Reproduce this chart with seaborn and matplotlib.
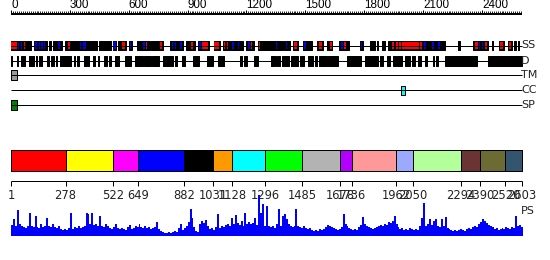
import numpy as np
import pandas as pd
import matplotlib
matplotlib.use("Agg")
import matplotlib.pyplot as plt
import seaborn as sns

# ---------------- data ----------------
SEQ_LEN = 2603
ruler_labels = [0, 300, 600, 900, 1200, 1500, 1800, 2100, 2400]

track_names = ["SS", "D", "TM", "CC", "SP"]

ss_coil = [(0, 100), (119, 182), (194, 202), (212, 229), (236, 258), (277, 389), (392, 437),
           (450, 510), (522, 535), (547, 586), (603, 618), (644, 708), (714, 776), (810, 878),
           (892, 938), (955, 1009), (1035, 1065), (1079, 1116), (1120, 1171), (1179, 1184),
           (1198, 1239), (1261, 1380), (1386, 1391), (1397, 1422), (1439, 1461), (1490, 1512),
           (1516, 1532), (1558, 1592), (1609, 1617), (1623, 1638), (1672, 1723), (1779, 1792),
           (1830, 1855), (1864, 1869), (1889, 1906), (1923, 2124), (2131, 2212), (2280, 2289),
           (2357, 2433), (2450, 2458), (2487, 2511), (2531, 2555), (2565, 2572), (2582, 2589)]
ss_helix = [(0, 32), (65, 73), (291, 301), (566, 579), (686, 691), (759, 771), (916, 929),
            (972, 1006), (1036, 1060), (1087, 1092), (1101, 1108), (1225, 1230), (1264, 1269),
            (1442, 1458), (1572, 1583), (1626, 1634), (1697, 1708), (1940, 1954), (1961, 1971),
            (1978, 1988), (1995, 2080), (2086, 2093), (2365, 2379), (2416, 2426), (2494, 2508),
            (2538, 2548)]
ss_strand = [(37, 42), (49, 54), (124, 131), (141, 148), (155, 161), (168, 175), (240, 250),
             (350, 357), (369, 381), (522, 535), (605, 612), (675, 683), (819, 826), (836, 841),
             (861, 870), (960, 970), (1128, 1138), (1159, 1164), (1210, 1218), (1351, 1358),
             (1400, 1408), (1495, 1502), (1682, 1692), (1782, 1789), (2103, 2114), (2144, 2154),
             (2178, 2188), (2385, 2392), (2399, 2408)]

disorder = [(0, 3), (29, 34), (49, 71), (92, 119), (126, 134), (141, 148), (153, 160), (182, 195),
            (202, 211), (216, 221), (228, 236), (250, 304), (321, 328), (338, 348), (374, 386),
            (391, 399), (420, 426), (442, 450), (472, 488), (500, 510), (530, 552), (581, 610),
            (632, 675), (680, 712), (719, 753), (773, 827), (834, 844), (872, 889), (929, 957),
            (997, 1031), (1057, 1084), (1167, 1179), (1186, 1201), (1240, 1257), (1325, 1346),
            (1350, 1355), (1363, 1369), (1380, 1417), (1427, 1465), (1473, 1495), (1516, 1541),
            (1549, 1558), (1570, 1609), (1617, 1665), (1711, 1784), (1804, 1872), (1881, 1898),
            (1915, 1932), (1949, 1961), (1966, 1991), (2008, 2017), (2020, 2034), (2042, 2059),
            (2076, 2090), (2110, 2119), (2153, 2158), (2164, 2175), (2212, 2373), (2433, 2603)]

tm_segments = [(0, 29)]
cc_segments = [(1988, 2008)]
sp_segments = [(0, 32)]

domain_bounds = [1, 278, 522, 649, 882, 1031, 1128, 1296, 1485, 1678, 1736, 1962,
                 2050, 2294, 2390, 2520, 2603]
domain_colors = ["#FF0000", "#FFFF00", "#FF00FF", "#0000FF", "#000000", "#FF9900",
                 "#00FFFF", "#00FF00", "#B3B3B3", "#B300FF", "#FF9999", "#9DA8FF",
                 "#B3FF99", "#6B3333", "#6B6B33", "#335570"]

# PS score, one value per 10 residues
ps_values = [
    11, 17, 10, 26, 12, 10, 9, 8, 10, 23, 10, 9, 20, 9, 8, 12, 9, 10, 18, 10,
    9, 12, 9, 8, 10, 7, 6, 7, 6, 8, 23, 7, 9, 8, 10, 8, 9, 10, 23, 22,
    12, 23, 11, 12, 10, 20, 10, 9, 12, 10, 8, 7, 9, 12, 8, 7, 8, 7, 6, 9,
    11, 7, 8, 10, 9,
    12, 9, 8, 10, 8, 9, 7, 8, 9, 14, 7, 5, 4, 3, 3, 4, 3, 4, 5, 4,
    8, 12, 6, 8, 10, 14, 27, 18, 9, 5, 4, 12, 15, 13, 16, 10, 7, 8, 6, 9,
    22, 8, 10, 9, 11, 12, 10, 18, 12, 21, 13, 11, 15, 10, 23, 12, 14, 12, 13, 18,
    11, 41, 23, 32, 10,
    30, 10, 9, 10, 8, 12, 27, 10, 20, 22, 17, 12, 10, 9, 10, 27, 10, 9, 8, 10,
    8, 7, 8, 6, 5, 6, 5, 7, 6, 7, 9, 11, 10, 9, 8, 7, 6, 7, 9, 22,
    12, 10, 8, 7, 6, 7, 6, 9, 11, 19, 12, 10, 9, 8, 7, 8, 9, 10, 11, 10,
    12, 11, 14, 13, 15,
    20, 12, 9, 7, 8, 6, 7, 6, 8, 7, 6, 7, 6, 10, 18, 33, 10, 12, 17, 11,
    15, 17, 10, 9, 17, 10, 19, 8, 7, 6, 5, 6, 5, 6, 7, 6, 5, 7, 8, 7,
    9, 10, 9, 12, 14, 17, 15, 13, 11, 10, 9, 7, 8, 6, 7, 8, 7, 9, 8, 7,
    9, 8, 20, 10, 11, 9,
]
ps_pos = [10 * i + 5 for i in range(len(ps_values))]

# ---------------- drawing ----------------
sns.set_style("white")
plt.rcParams["font.family"] = ["DejaVu Sans"]

W, H = 550, 260
PX0, PXR = 11.0, 0.1962          # pixel of residue 0, pixels per residue
XLIM = (-PX0 / PXR, (W - PX0) / PXR)
LW1 = 0.72                       # 1 px in points

fig = plt.figure(figsize=(5.5, 2.6), dpi=100)
ax = fig.add_axes([0, 0, 1, 1])
ax.set_xlim(*XLIM)
ax.set_ylim(H, 0)
ax.axis("off")

# ruler
ax.hlines(14.3, 0, SEQ_LEN, color="black", lw=2 * LW1)
ax.vlines(np.arange(0, SEQ_LEN + 1, 10), 11.0, 14.3, color="black", lw=0.6)
ax.vlines(ruler_labels, 9.5, 14.3, color="black", lw=LW1)
for v in ruler_labels:
    ax.text(v, 11.0, str(v), ha="left", va="bottom", fontsize=8.4,
            family=["Liberation Sans Narrow", "Liberation Sans"], color="#000000")


def segs(lst):
    return [(a, b - a) for a, b in lst]


track_y = {"SS": 45.5, "D": 60.7, "TM": 75.3, "CC": 90.3, "SP": 105.3}
for name in track_names:
    y = track_y[name]
    ax.hlines(y, 0, SEQ_LEN, color="black", lw=LW1)
    ax.text(SEQ_LEN - 2, y, name, ha="left", va="center", fontsize=8,
            color="#222222")

# SS
ax.broken_barh(segs(ss_coil), (41, 9), facecolors="black", edgecolor="black", lw=LW1)
ax.broken_barh(segs(ss_helix), (41.7, 7.6), facecolors="#FF0000", lw=0)
ax.broken_barh(segs(ss_strand), (41.7, 7.6), facecolors="#0000FF", lw=0)
# Disorder
ax.broken_barh(segs(disorder), (55.5, 10.5), facecolors="black", edgecolor="black", lw=LW1)
# TM / CC / SP
ax.broken_barh(segs(tm_segments), (70.3, 10), facecolors="#999999", edgecolor="black", lw=LW1)
ax.broken_barh(segs(cc_segments), (85.8, 9), facecolors="#00FFFF", edgecolor="black", lw=LW1)
ax.broken_barh(segs(sp_segments), (100.3, 10), facecolors="#008000", edgecolor="black", lw=LW1)

# domain bar
dom = [(domain_bounds[i], domain_bounds[i + 1] - domain_bounds[i])
       for i in range(len(domain_colors))]
ax.broken_barh(dom, (150.3, 20.3), facecolors=domain_colors, edgecolor="black", lw=LW1)
ax.hlines(181, domain_bounds[0], domain_bounds[-1], color="black", lw=LW1)
ax.vlines(domain_bounds, 181, 185.5, color="black", lw=LW1)
for b in domain_bounds:
    ax.text(b, 189.3, str(b), ha="center", va="top", fontsize=8.3,
            family="DejaVu Sans", color="#222222")

# PS track
BASE, TOP = 235.6, 193.6
ax2 = fig.add_axes([0, (H - BASE) / H, 1, (BASE - TOP) / H])
sns.histplot(x=np.array(ps_pos, dtype=float), weights=np.array(ps_values, dtype=float),
             binwidth=10, binrange=(0, 2610), element="bars", fill=True,
             color="#0000FF", alpha=1, linewidth=0, ax=ax2)
ax2.set_xlim(*XLIM)
ax2.set_ylim(0, 42)
ax2.axis("off")
ax.text(SEQ_LEN - 2, 211.5, "PS", ha="left", va="center", fontsize=8, color="#222222")

fig.savefig("out.png", dpi=100)
